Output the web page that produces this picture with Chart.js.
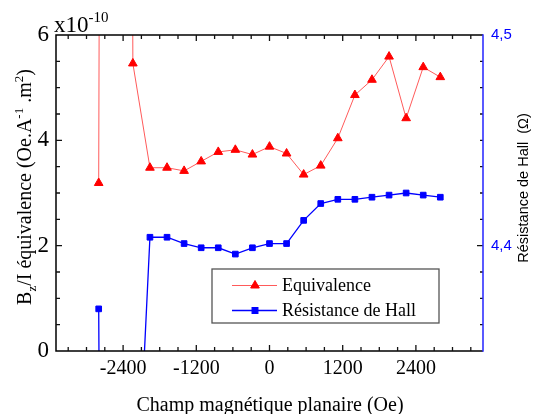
<!DOCTYPE html>
<html>
<head>
<meta charset="utf-8">
<script src="https://cdn.jsdelivr.net/npm/chart.js@4.4.1/dist/chart.umd.min.js"></script>
<style>
  html, body { margin: 0; padding: 0; background: #fff; }
  #wrap { width: 535px; height: 414px; }
</style>
</head>
<body>
<div id="wrap"><canvas id="combinedChart" width="535" height="414"></canvas></div>
<script>
// champ magnétique planaire (Oe)
var champ = [-2800, -2520, -2240, -1960, -1680, -1400, -1120, -840, -560, -280,
    0, 280, 560, 840, 1120, 1400, 1680, 1960, 2240, 2520, 2800];

// Bz/I équivalence (x10^-10), point à -2520 hors échelle
var equivalence = [3.19, 120, 5.46, 3.48, 3.48, 3.42, 3.60, 3.78, 3.82, 3.73,
    3.88, 3.75, 3.35, 3.52, 4.04, 4.86, 5.15, 5.59, 4.42, 5.39, 5.20];

// résistance de Hall (Ohm), points à -2520 et -2240 hors échelle
var resistance = [4.370, 3.0, 4.235, 4.404, 4.404, 4.401, 4.399, 4.399, 4.396, 4.399,
    4.401, 4.401, 4.412, 4.420, 4.422, 4.422, 4.423, 4.424, 4.425, 4.424, 4.423];

var xTicks = [-2400, -1200, 0, 1200, 2400];
var yTicks = [0, 2, 4, 6];
var y1Ticks = [4.4, 4.5];
var legendLabels = ['Equivalence', 'Résistance de Hall'];

var serif = '"Liberation Serif", "Times New Roman", serif';
var sans = '"Liberation Sans", Arial, sans-serif';

function toPoints(xs, ys) {
    return xs.map(function (x, i) { return { x: x, y: ys[i] }; });
}

function seg(g, x1, y1, x2, y2) {
    g.moveTo(x1, y1);
    g.lineTo(x2, y2);
}

// cadre, ticks vers l'intérieur, titres et légende
var decorPlugin = {
    id: 'decor',
    afterDraw: function (chart) {
        var g = chart.ctx;
        var sx = chart.scales.x, sy = chart.scales.y, sy1 = chart.scales.y1;
        var L = sx.left, R = sx.right, T = sy.top, B = sy.bottom;
        g.save();
        g.lineCap = 'butt';

        // cadre noir (haut, bas, gauche)
        g.strokeStyle = '#000';
        g.lineWidth = 1.5;
        g.beginPath();
        seg(g, L, T, R, T);
        seg(g, L, B, R, B);
        seg(g, L, T - 0.75, L, B + 0.75);
        g.stroke();

        // ticks
        g.lineWidth = 1.3;
        g.strokeStyle = '#111';
        g.beginPath();
        for (var v = -3300; v <= 3300; v += 300) {
            var px = sx.getPixelForValue(v);
            var len = xTicks.indexOf(v) >= 0 ? 6 : 4;
            seg(g, px, B, px, B - len);
            seg(g, px, T, px, T + len);
        }
        for (var k = 1; k <= 11; k++) {
            var val = k * 0.5;
            var py = sy.getPixelForValue(val);
            var l2 = yTicks.indexOf(val) >= 0 ? 6 : 4;
            seg(g, L, py, L + l2, py);
        }
        for (var j = 1; j <= 11; j++) {
            var r = 4.35 + j * 0.0125;
            var pr = sy1.getPixelForValue(r);
            var l3 = j === 4 ? 6 : 3;
            seg(g, R, pr, R - l3, pr);
        }
        g.stroke();

        // axe droit bleu
        g.strokeStyle = '#3030ff';
        g.lineWidth = 1.6;
        g.beginPath();
        seg(g, R, T - 0.75, R, B + 0.75);
        g.stroke();

        // x10^-10
        g.fillStyle = '#000';
        g.textBaseline = 'alphabetic';
        g.textAlign = 'left';
        g.font = '23px ' + serif;
        g.fillText('x10', 54, 32);
        var w = g.measureText('x10').width;
        g.font = '15px ' + serif;
        g.fillText('-10', 54 + w, 22);

        // titre axe x
        g.textAlign = 'center';
        g.font = '20px ' + serif;
        g.fillText('Champ magnétique planaire (Oe)', 270, 411);

        // titre axe y gauche avec indices / exposants
        var parts = [
            ['B', 0, 20], ['z', 5, 13], ['/I équivalence (Oe.A', 0, 20],
            ['-1', -8, 13], [' .m', 0, 20], ['2', -8, 13], [')', 0, 20]
        ];
        g.save();
        g.translate(31, 187);
        g.rotate(-Math.PI / 2);
        var total = 0;
        parts.forEach(function (p) {
            g.font = p[2] + 'px ' + serif;
            total += g.measureText(p[0]).width;
        });
        var cx = -total / 2;
        g.textAlign = 'left';
        parts.forEach(function (p) {
            g.font = p[2] + 'px ' + serif;
            g.fillText(p[0], cx, p[1]);
            cx += g.measureText(p[0]).width;
        });
        g.restore();

        // titre axe y droit
        g.save();
        g.translate(528, 188);
        g.rotate(-Math.PI / 2);
        g.textAlign = 'center';
        g.font = '14.5px ' + sans;
        g.fillText('Résistance de Hall  (Ω)', 0, 0);
        g.restore();

        // légende
        g.fillStyle = '#fff';
        g.fillRect(212, 269, 227, 54);
        g.strokeStyle = '#555';
        g.lineWidth = 1.3;
        g.strokeRect(212, 269, 227, 54);
        var rows = [285.5, 310.5];
        chart.data.datasets.forEach(function (ds, i) {
            g.strokeStyle = ds.borderColor;
            g.lineWidth = ds.borderWidth;
            g.beginPath();
            seg(g, 232, rows[i], 277, rows[i]);
            g.stroke();
            g.fillStyle = ds.pointBackgroundColor;
            g.strokeStyle = ds.pointBorderColor;
            Chart.helpers.drawPoint(g, {
                pointStyle: ds.pointStyle,
                radius: ds.pointRadius,
                rotation: 0,
                borderWidth: 1
            }, 255, rows[i]);
            g.fillStyle = '#000';
            g.textAlign = 'left';
            g.textBaseline = 'middle';
            g.font = '18px ' + serif;
            g.fillText(legendLabels[i], 282, rows[i] + 1);
        });
        g.restore();
    }
};

var ctx = document.getElementById('combinedChart');

window.combinedChart = new Chart(ctx, {
    type: 'line',
    data: {
        datasets: [
            {
                label: legendLabels[0],
                data: toPoints(champ, equivalence),
                yAxisID: 'y',
                borderColor: '#ff5a5a',
                borderWidth: 1,
                pointStyle: 'triangle',
                pointRadius: 5,
                pointBackgroundColor: '#ff0000',
                pointBorderColor: '#ff0000',
                pointBorderWidth: 1,
                tension: 0
            },
            {
                label: legendLabels[1],
                data: toPoints(champ, resistance),
                yAxisID: 'y1',
                borderColor: '#0000ff',
                borderWidth: 1.3,
                pointStyle: 'rect',
                pointRadius: 4,
                pointBackgroundColor: '#0000ff',
                pointBorderColor: '#0000ff',
                pointBorderWidth: 1,
                tension: 0
            }
        ]
    },
    options: {
        responsive: false,
        animation: false,
        layout: { padding: { top: 35, left: 0, right: 0, bottom: 0 } },
        plugins: {
            legend: { display: false },
            tooltip: { enabled: false }
        },
        scales: {
            x: {
                type: 'linear',
                min: -3500,
                max: 3500,
                afterBuildTicks: function (s) { s.ticks = xTicks.map(function (v) { return { value: v }; }); },
                afterFit: function (s) { s.height = 63; },
                grid: { display: false, drawTicks: false },
                border: { display: false },
                ticks: {
                    color: '#000',
                    font: { family: serif, size: 20 },
                    padding: 6,
                    maxRotation: 0,
                    callback: function (v) { return String(v); }
                }
            },
            y: {
                type: 'linear',
                position: 'left',
                min: 0,
                max: 6,
                afterBuildTicks: function (s) { s.ticks = yTicks.map(function (v) { return { value: v }; }); },
                afterFit: function (s) { s.width = 56; },
                grid: { display: false, drawTicks: false },
                border: { display: false },
                ticks: { color: '#000', font: { family: serif, size: 23 }, padding: 7 }
            },
            y1: {
                type: 'linear',
                position: 'right',
                min: 4.35,
                max: 4.5,
                afterBuildTicks: function (s) { s.ticks = y1Ticks.map(function (v) { return { value: v }; }); },
                afterFit: function (s) { s.width = 52; },
                grid: { display: false, drawTicks: false },
                border: { display: false },
                ticks: {
                    color: '#0000ff',
                    font: { family: sans, size: 15 },
                    padding: 8,
                    callback: function (v) { return v.toFixed(1).replace('.', ','); }
                }
            }
        }
    },
    plugins: [decorPlugin]
});
</script>
</body>
</html>
